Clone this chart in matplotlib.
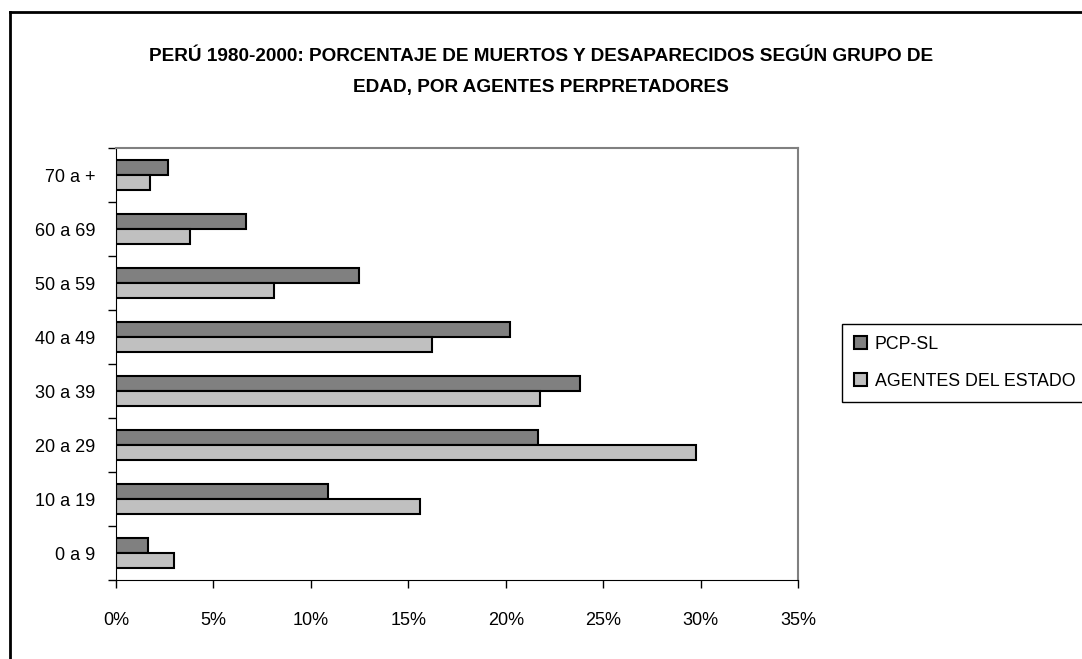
import matplotlib.pyplot as plt
import numpy as np
from matplotlib.lines import Line2D

# datos (en %)
grupos = ['0 a 9', '10 a 19', '20 a 29', '30 a 39', '40 a 49', '50 a 59', '60 a 69', '70 a +']
pcp_sl = [1.66, 10.89, 21.67, 23.82, 20.23, 12.45, 6.69, 2.68]
agentes = [2.99, 15.6, 29.77, 21.77, 16.23, 8.12, 3.81, 1.74]
xticks = [0, 5, 10, 15, 20, 25, 30, 35]

titulo = ('PERÚ 1980-2000: PORCENTAJE DE MUERTOS Y DESAPARECIDOS SEGÚN GRUPO DE\n'
          'EDAD, POR AGENTES PERPRETADORES')

fuente = ['Liberation Sans Narrow', 'Liberation Sans', 'DejaVu Sans']
plt.rcParams['font.family'] = ['Liberation Sans', 'DejaVu Sans']

fig = plt.figure(figsize=(10.82, 6.59), dpi=100)
ax = fig.add_axes([116/1082, 1 - 580/659, 682/1082, 432/659])

y = np.arange(len(grupos))
h = 0.28
ax.barh(y + h/2, pcp_sl, height=h, color='#808080', edgecolor='black', linewidth=1.5, label='PCP-SL')
ax.barh(y - h/2, agentes, height=h, color='#c0c0c0', edgecolor='black', linewidth=1.5, label='AGENTES DEL ESTADO')

ax.set_xlim(0, 35)
ax.set_ylim(-0.5, len(grupos) - 0.5)
ax.set_xticks(xticks)
ax.set_xticklabels([f'{v}%' for v in xticks])
ax.set_yticks(y)
ax.set_yticklabels(grupos)
ax.set_yticks(np.arange(len(grupos) + 1) - 0.5, minor=True)
ax.tick_params(axis='y', which='major', length=0, pad=15, labelsize=13)
ax.tick_params(axis='y', which='minor', length=6, direction='out', width=1)
ax.tick_params(axis='x', length=6, direction='out', width=1, pad=17, labelsize=13)

ax.spines['left'].set_color('black')
ax.spines['bottom'].set_color('black')
for s in ['top', 'right']:
    ax.spines[s].set_color('#808080')
    ax.spines[s].set_linewidth(1.5)

fig.text(0.5, 1 - 72/659, titulo, ha='center', va='center', fontsize=13.7,
         fontweight='bold', family=fuente, linespacing=2.05)

leg = fig.legend(loc='upper left', bbox_to_anchor=(842/1082, 1 - 324/659),
                 fontsize=12.8, fancybox=False, edgecolor='black', framealpha=1,
                 handlelength=0.75, handleheight=0.75, handletextpad=0.45,
                 labelspacing=1.15, borderpad=0.65, borderaxespad=0)
leg.get_frame().set_linewidth(1)

# marco exterior del grafico
fig.add_artist(Line2D([10/1082, 10/1082], [-0.1, 1 - 12/659], color='black', lw=2))
fig.add_artist(Line2D([10/1082, 1.1], [1 - 12/659, 1 - 12/659], color='black', lw=2))

fig.savefig('out.png', dpi=100)
